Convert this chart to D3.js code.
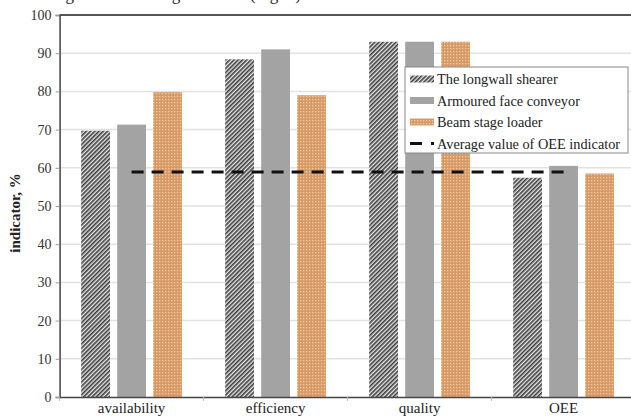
<!DOCTYPE html>
<html>
<head>
<meta charset="utf-8">
<script src="https://cdn.jsdelivr.net/npm/d3@7"></script>
<style>
  body { margin: 0; background: #fff; }
  svg text { font-family: 'Liberation Serif', 'Times New Roman', Times, serif !important; }
</style>
</head>
<body>
<div id="chart"></div>
<script>
// categories and series
var categories = ["availability", "efficiency", "quality", "OEE"];
var seriesNames = ["The longwall shearer", "Armoured face conveyor", "Beam stage loader"];
var shearer = [69.7, 88.4, 93, 57.4];
var conveyor = [71.3, 91, 93, 60.5];
var loader = [79.8, 79, 93, 58.5];
var averageOEE = [58.9, 58.9, 58.9, 58.9];
var averageName = "Average value of OEE indicator";
var yTicks = [0, 10, 20, 30, 40, 50, 60, 70, 80, 90, 100];

var W = 631, H = 417;

var svg = d3.select("#chart")
  .append("svg")
    .attr("width", W)
    .attr("height", H);

// motifs des barres
var defs = svg.append("defs");
var hatch = defs.append("pattern")
    .attr("id", "hatch")
    .attr("patternUnits", "userSpaceOnUse")
    .attr("width", 3).attr("height", 3)
    .attr("patternTransform", "rotate(45)");
hatch.append("rect").attr("width", 3).attr("height", 3).attr("fill", "#e8e8e8");
hatch.append("rect").attr("width", 1.6).attr("height", 3).attr("fill", "#3c3c3c");

var dots = defs.append("pattern")
    .attr("id", "dots")
    .attr("patternUnits", "userSpaceOnUse")
    .attr("width", 3).attr("height", 3);
dots.append("rect").attr("width", 3).attr("height", 3).attr("fill", "#d79a66");
dots.append("rect").attr("x", 0).attr("y", 0).attr("width", 1.3).attr("height", 1.3).attr("fill", "#f1cba4");

var fills = ["url(#hatch)", "#a3a3a3", "url(#dots)"];
var values = [shearer, conveyor, loader];

// cropped caption line above the chart
var cap = svg.append("g").attr("font-size", 17).attr("fill", "#222");
cap.append("text").attr("x", 74).attr("y", 0).attr("text-anchor", "end").text("Using");
cap.append("text").attr("x", 151).attr("y", 0).text("diagram");
cap.append("text").attr("x", 250).attr("y", 0).text("(Fig. 7)");

// scales
var x = d3.scaleBand()
  .domain(categories)
  .range([59.6, 635.6])
  .paddingInner(0.3)
  .paddingOuter(0.15);

var xSub = d3.scaleBand()
  .domain(seriesNames)
  .range([0, x.bandwidth()])
  .paddingInner(0.2)
  .paddingOuter(0);

var y = d3.scaleLinear()
  .domain([0, 100])
  .range([397, 15]);

// grid
svg.append("g")
  .selectAll("line")
  .data(yTicks.filter(function(d){ return d > 0 && d < 100; }))
  .enter()
  .append("line")
    .attr("x1", 59.6).attr("x2", W)
    .attr("y1", function(d){ return y(d); })
    .attr("y2", function(d){ return y(d); })
    .attr("stroke", "#e2e2e2")
    .attr("stroke-width", 1.5);

// bars
seriesNames.forEach(function(name, i) {
  svg.append("g")
    .selectAll("rect")
    .data(categories)
    .enter()
    .append("rect")
      .attr("x", function(d){ return x(d) + xSub(name); })
      .attr("y", function(d, j){ return y(values[i][j]); })
      .attr("width", xSub.bandwidth())
      .attr("height", function(d, j){ return y(0) - y(values[i][j]); })
      .attr("fill", fills[i]);
});

// average line
var line = d3.line()
  .x(function(d, j){ return x(categories[j]) + x.bandwidth() / 2; })
  .y(function(d){ return y(d); });

svg.append("path")
  .datum(averageOEE)
  .attr("d", line)
  .attr("fill", "none")
  .attr("stroke", "#111")
  .attr("stroke-width", 3)
  .attr("stroke-dasharray", "12,8");

// top frame
svg.append("line")
  .attr("x1", 59.6).attr("x2", W)
  .attr("y1", y(100)).attr("y2", y(100))
  .attr("stroke", "#555").attr("stroke-width", 2);

// Axe Y
var yAxis = svg.append("g")
  .attr("transform", "translate(59.6,0)")
  .call(d3.axisLeft(y).tickValues(yTicks).tickSize(4).tickPadding(4));
yAxis.select(".domain").attr("stroke", "#444").attr("stroke-width", 1.5);
yAxis.selectAll(".tick line").attr("stroke", "#999");
yAxis.selectAll("text")
  .attr("font-size", 14)
  .attr("fill", "#333");

// Axe X
var xAxis = svg.append("g")
  .attr("transform", "translate(0," + y(0) + ")")
  .call(d3.axisBottom(x).tickSize(0).tickPadding(5));
xAxis.select(".domain").attr("stroke", "#444").attr("stroke-width", 1.5);
xAxis.selectAll("text")
  .attr("font-size", 15)
  .attr("fill", "#222");

// category separators
svg.append("g")
  .selectAll("line")
  .data(categories)
  .enter()
  .append("line")
    .attr("x1", function(d){ return x(d) - x.step() * x.paddingOuter(); })
    .attr("x2", function(d){ return x(d) - x.step() * x.paddingOuter(); })
    .attr("y1", y(0)).attr("y2", y(0) + 4)
    .attr("stroke", "#bbb");

// axis title
svg.append("text")
  .attr("transform", "translate(20," + 213 + ") rotate(-90)")
  .attr("text-anchor", "middle")
  .attr("font-size", 15)
  .attr("font-weight", "bold")
  .attr("fill", "#222")
  .text("indicator, %");

// legend
var lg = svg.append("g");
lg.append("rect")
  .attr("x", 405).attr("y", 67)
  .attr("width", 223).attr("height", 86)
  .attr("fill", "#fff")
  .attr("stroke", "#888");

seriesNames.forEach(function(name, i) {
  var cy = 79 + i * 21.5;
  lg.append("rect")
    .attr("x", 410).attr("y", cy - 3.5)
    .attr("width", 24).attr("height", 7)
    .attr("fill", fills[i]);
  lg.append("text")
    .attr("x", 437).attr("y", cy + 5)
    .attr("font-size", 14.3)
    .attr("fill", "#222")
    .text(name);
});
var ay = 79 + 3 * 21.5;
lg.append("line")
  .attr("x1", 410).attr("x2", 422)
  .attr("y1", ay).attr("y2", ay)
  .attr("stroke", "#111").attr("stroke-width", 3);
lg.append("line")
  .attr("x1", 431).attr("x2", 434)
  .attr("y1", ay).attr("y2", ay)
  .attr("stroke", "#111").attr("stroke-width", 3);
lg.append("text")
  .attr("x", 437).attr("y", ay + 5)
  .attr("font-size", 14.3)
  .attr("fill", "#222")
  .text(averageName);
</script>
</body>
</html>
